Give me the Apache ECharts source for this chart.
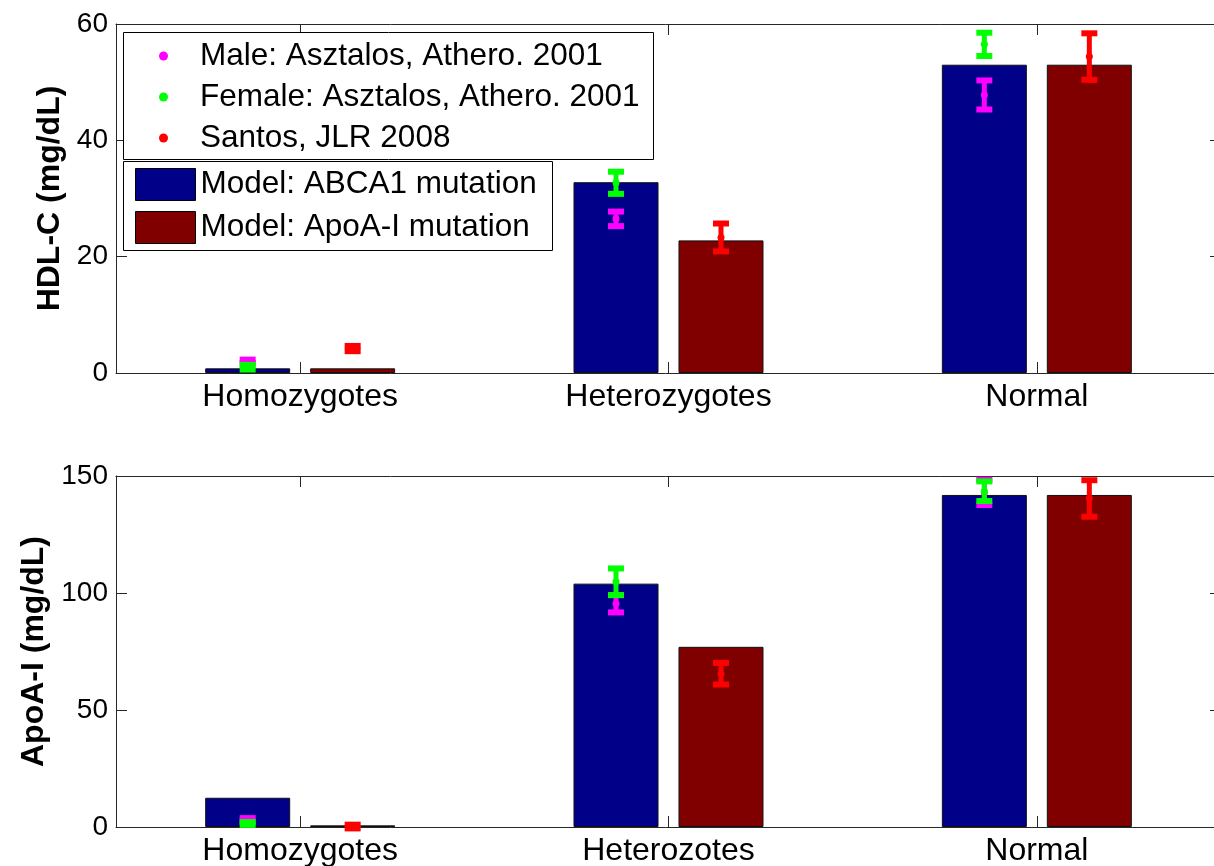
<!DOCTYPE html>
<html>
<head>
<meta charset="utf-8">
<script src="https://cdn.jsdelivr.net/npm/echarts@6/dist/echarts.min.js"></script>
<style>
html,body{margin:0;padding:0;background:#fff;}
#chart{width:1214px;height:866px;}
</style>
</head>
<body>
<div id="chart"></div>
<script>
// ---------- data ----------
const categoriesTop = ['Homozygotes', 'Heterozygotes', 'Normal'];
const categoriesBottom = ['Homozygotes', 'Heterozotes', 'Normal'];
const yTicksTop = [0, 20, 40, 60];
const yTicksBottom = [0, 50, 100, 150];

const seriesNames = {
  male: 'Male: Asztalos, Athero. 2001',
  female: 'Female: Asztalos, Athero. 2001',
  santos: 'Santos, JLR 2008',
  abca1: 'Model: ABCA1 mutation',
  apoa1: 'Model: ApoA-I mutation'
};

// HDL-C (mg/dL)
const hdlModelAbca1 = [0.8, 32.8, 53.0];
const hdlModelApoA1 = [0.8, 22.8, 53.0];
const hdlMaleMean = [2.0, 26.5, 47.8];
const hdlMaleErr = [0.3, 1.25, 2.5];
const hdlFemaleMean = [1.0, 32.7, 56.5];
const hdlFemaleErr = [0.4, 1.9, 2.0];
const hdlSantosMean = [4.2, 23.3, 54.4];
const hdlSantosErr = [0.45, 2.4, 4.0];

// ApoA-I (mg/dL)
const apoModelAbca1 = [12.5, 104.0, 141.9];
const apoModelApoA1 = [0.7, 77.0, 141.9];
const apoMaleMean = [3.3, 95.4, 143.0];
const apoMaleErr = [0.5, 3.7, 5.4];
const apoFemaleMean = [1.5, 104.8, 143.5];
const apoFemaleErr = [0.6, 5.7, 4.2];
const apoSantosMean = [0.2, 65.5, 140.4];
const apoSantosErr = [0.8, 4.6, 7.8];

// ---------- style ----------
const FONT = "'Liberation Sans', Arial, sans-serif";
const BLUE = '#000088';
const DARKRED = '#800000';
const MAGENTA = '#ff00ff';
const GREEN = '#00ff00';
const RED = '#ff0000';
const AXIS = '#262626';
const BAR_W = 85;
const BAR_GAP = 20;
const OFF = (BAR_W + BAR_GAP) / 2;

const chart = echarts.init(document.getElementById('chart'), null, {renderer: 'canvas'});

function errSeries(name, means, errs, color, axisIdx, offset) {
  return {
    type: 'custom',
    name: name,
    xAxisIndex: axisIdx,
    yAxisIndex: axisIdx,
    clip: false,
    z: 5,
    itemStyle: {color: color},
    encode: {x: 0, y: 1},
    data: means.map((m, i) => [i, m, errs[i]]),
    renderItem: function (params, api) {
      const i = api.value(0), m = api.value(1), e = api.value(2);
      const c = api.coord([i, m]);
      const t = api.coord([i, m + e]);
      const b = api.coord([i, m - e]);
      const x = c[0] + offset;
      const capW = 16, capH = 6, stemW = 5;
      const st = {fill: color};
      return {
        type: 'group',
        children: [
          {type: 'rect', shape: {x: x - stemW / 2, y: t[1], width: stemW, height: b[1] - t[1]}, style: st},
          {type: 'rect', shape: {x: x - capW / 2, y: t[1] - capH / 2, width: capW, height: capH}, style: st},
          {type: 'rect', shape: {x: x - capW / 2, y: b[1] - capH / 2, width: capW, height: capH}, style: st},
          {type: 'circle', shape: {cx: x, cy: c[1], r: 3.5}, style: st}
        ]
      };
    }
  };
}

function barSeries(name, data, color, axisIdx) {
  return {
    type: 'bar',
    name: name,
    xAxisIndex: axisIdx,
    yAxisIndex: axisIdx,
    barWidth: BAR_W,
    barGap: (BAR_GAP / BAR_W * 100).toFixed(1) + '%',
    itemStyle: {color: color, borderColor: '#111', borderWidth: 1},
    data: data,
    z: 2
  };
}

function catAxis(cats, gridIndex, position, showLabels) {
  return {
    type: 'category',
    gridIndex: gridIndex,
    position: position,
    data: cats,
    boundaryGap: true,
    axisLine: {show: true, onZero: false, lineStyle: {color: AXIS, width: 1}},
    axisTick: {show: true, inside: true, alignWithLabel: true, length: 11, lineStyle: {color: AXIS}},
    axisLabel: {show: showLabels, color: '#000', fontFamily: FONT, fontSize: 32, margin: 8},
    splitLine: {show: false}
  };
}

function valAxis(ticks, gridIndex, position, name) {
  const a = {
    type: 'value',
    gridIndex: gridIndex,
    position: position,
    min: ticks[0],
    max: ticks[ticks.length - 1],
    interval: ticks[1] - ticks[0],
    axisLine: {show: true, onZero: false, lineStyle: {color: AXIS, width: 1}},
    axisTick: {show: true, inside: true, length: 11, lineStyle: {color: AXIS}},
    axisLabel: {show: position === 'left', color: '#000', fontFamily: FONT, fontSize: 28, margin: 8},
    splitLine: {show: false}
  };
  if (name) {
    a.name = name;
    a.nameLocation = 'middle';
    a.nameGap = 49;
    a.nameTextStyle = {color: '#000', fontFamily: FONT, fontSize: 32, fontWeight: 'bold'};
  }
  return a;
}

const option = {
  backgroundColor: '#fff',
  animation: false,
  grid: [
    {left: 116, top: 24, width: 1105, height: 349, containLabel: false, outerBoundsMode: 'none'},
    {left: 116, top: 476, width: 1105, height: 351, containLabel: false, outerBoundsMode: 'none'}
  ],
  xAxis: [
    catAxis(categoriesTop, 0, 'bottom', true),
    catAxis(categoriesTop, 0, 'top', false),
    catAxis(categoriesBottom, 1, 'bottom', true),
    catAxis(categoriesBottom, 1, 'top', false)
  ],
  yAxis: [
    valAxis(yTicksTop, 0, 'left', 'HDL-C (mg/dL)'),
    valAxis(yTicksTop, 0, 'right', null),
    valAxis(yTicksBottom, 1, 'left', 'ApoA-I (mg/dL)'),
    valAxis(yTicksBottom, 1, 'right', null)
  ],
  graphic: [
    {type: 'rect', z: 3, shape: {x: 123.5, y: 32.5, width: 530, height: 127}, style: {fill: '#fff', stroke: '#000', lineWidth: 1}},
    {type: 'rect', z: 3, shape: {x: 123.5, y: 161.5, width: 429, height: 89}, style: {fill: '#fff', stroke: '#000', lineWidth: 1}}
  ],
  legend: [
    {
      orient: 'vertical',
      left: 159, top: 40,
      padding: 0,
      itemGap: 9,
      itemWidth: 9, itemHeight: 9,
      selectedMode: false,
      z: 6,
      textStyle: {color: '#000', fontFamily: FONT, fontSize: 31.5, lineHeight: 31, padding: [0, 0, 0, 27]},
      data: [
        {name: seriesNames.male, icon: 'circle', itemStyle: {color: MAGENTA}},
        {name: seriesNames.female, icon: 'circle', itemStyle: {color: GREEN}},
        {name: seriesNames.santos, icon: 'circle', itemStyle: {color: RED}}
      ]
    },
    {
      orient: 'vertical',
      left: 135, top: 168,
      padding: 0,
      itemGap: 10,
      itemWidth: 60, itemHeight: 32,
      selectedMode: false,
      z: 6,
      textStyle: {color: '#000', fontFamily: FONT, fontSize: 31.5, lineHeight: 31},
      data: [
        {name: seriesNames.abca1, icon: 'rect', itemStyle: {color: BLUE, borderColor: '#000', borderWidth: 1}},
        {name: seriesNames.apoa1, icon: 'rect', itemStyle: {color: DARKRED, borderColor: '#000', borderWidth: 1}}
      ]
    }
  ],
  series: [
    barSeries(seriesNames.abca1, hdlModelAbca1, BLUE, 0),
    barSeries(seriesNames.apoa1, hdlModelApoA1, DARKRED, 0),
    errSeries(seriesNames.male, hdlMaleMean, hdlMaleErr, MAGENTA, 0, -OFF),
    errSeries(seriesNames.female, hdlFemaleMean, hdlFemaleErr, GREEN, 0, -OFF),
    errSeries(seriesNames.santos, hdlSantosMean, hdlSantosErr, RED, 0, OFF),

    barSeries(seriesNames.abca1, apoModelAbca1, BLUE, 2),
    barSeries(seriesNames.apoa1, apoModelApoA1, DARKRED, 2),
    errSeries(seriesNames.male, apoMaleMean, apoMaleErr, MAGENTA, 2, -OFF),
    errSeries(seriesNames.female, apoFemaleMean, apoFemaleErr, GREEN, 2, -OFF),
    errSeries(seriesNames.santos, apoSantosMean, apoSantosErr, RED, 2, OFF)
  ]
};

chart.setOption(option);
</script>
</body>
</html>
